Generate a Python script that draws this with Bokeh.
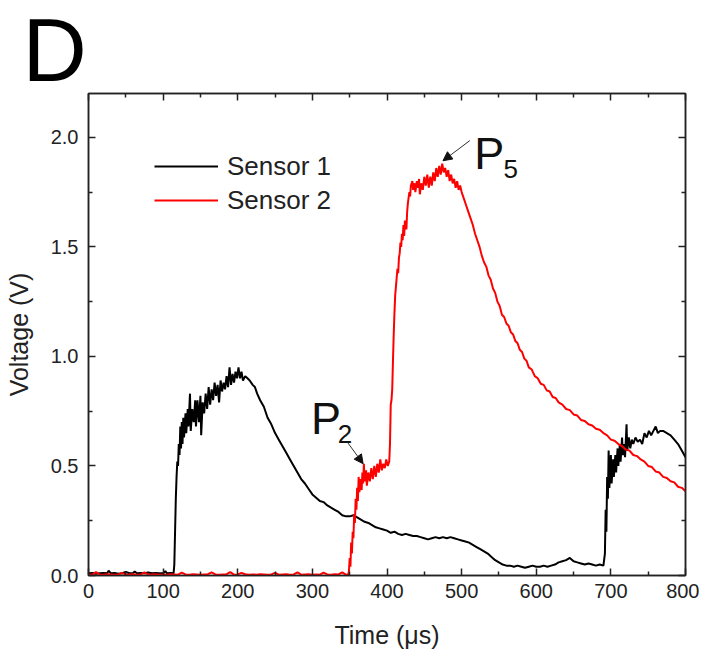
from bokeh.plotting import figure
from bokeh.models import (Range1d, FixedTicker, LinearAxis, Legend, LegendItem,
                          Label, Arrow, NormalHead, PrintfTickFormatter)
from bokeh.embed import file_html
from bokeh.resources import INLINE

# ---------------- data ----------------
s1_t = [0, 5, 10, 15, 20, 25, 27, 30, 35, 40, 45, 50, 55, 60, 62, 65, 70, 75, 80, 85, 90, 95, 100, 103, 105, 110, 114,
        115, 116, 117, 118, 119, 120, 121, 122, 123, 124, 125, 126, 127, 128, 130, 131, 133, 134, 136, 137, 139, 141,
        143, 144, 146, 148, 150, 151, 153, 155, 157, 159, 161, 163, 165, 167, 169, 171, 173, 175, 177, 179, 181, 183,
        185, 187, 189, 191, 193, 195, 197, 199, 201, 203, 205, 207, 210, 213, 216, 220, 223, 226, 230, 235, 240, 245,
        250, 255, 260, 265, 270, 275, 280, 285, 290, 295, 300, 305, 310, 315, 320, 325, 330, 335, 340, 345, 350, 355,
        360, 365, 370, 375, 380, 385, 390, 395, 400, 405, 410, 415, 420, 425, 430, 435, 440, 445, 450, 455, 460, 465,
        470, 475, 480, 485, 490, 495, 500, 505, 510, 515, 520, 525, 530, 535, 540, 545, 550, 555, 560, 565, 570, 575,
        580, 585, 590, 595, 600, 605, 610, 615, 620, 625, 630, 635, 640, 645, 650, 655, 660, 665, 670, 675, 680, 685,
        690, 692, 693, 694, 695, 696, 697, 698, 700, 701, 703, 704, 706, 707, 709, 710, 712, 713, 715, 716, 718, 719,
        721, 722, 724, 726, 728, 730, 733, 736, 739, 742, 745, 748, 751, 754, 757, 760, 763, 766, 770, 775, 780, 785,
        790, 795, 800]
s1_v = [0.01, 0.012, 0.008, 0.01, 0.012, 0.01, 0.022, 0.01, 0.012, 0.008, 0.01, 0.016, 0.01, 0.012, 0.018, 0.01, 0.012,
        0.01, 0.014, 0.01, 0.012, 0.01, 0.01, 0.02, 0.01, 0.012, 0.01,
        0.05, 0.2, 0.35, 0.45, 0.52, 0.5, 0.6, 0.55, 0.68, 0.58, 0.7, 0.6, 0.72, 0.63, 0.74, 0.65, 0.76, 0.68, 0.83,
        0.66, 0.76, 0.7, 0.8, 0.68, 0.8, 0.7, 0.82, 0.64, 0.79, 0.74, 0.83, 0.76, 0.86, 0.78, 0.85, 0.8, 0.88, 0.82,
        0.87, 0.79, 0.89, 0.84, 0.88, 0.85, 0.91, 0.86, 0.95, 0.87, 0.92, 0.88, 0.93, 0.9, 0.95, 0.9, 0.93, 0.89,
        0.91, 0.9, 0.89, 0.87, 0.86, 0.83, 0.8, 0.77, 0.72, 0.69,
        0.65, 0.62, 0.59, 0.56, 0.53, 0.5, 0.47, 0.44, 0.42, 0.395, 0.37, 0.355, 0.34, 0.335, 0.32, 0.31, 0.3, 0.29,
        0.275, 0.27, 0.27, 0.275,
        0.265, 0.255, 0.245, 0.24, 0.23, 0.22, 0.215, 0.21, 0.205, 0.195, 0.2, 0.19, 0.185, 0.19, 0.185, 0.18, 0.18,
        0.175, 0.17, 0.165, 0.17, 0.175,
        0.17, 0.175, 0.17, 0.175, 0.17, 0.165, 0.16, 0.155, 0.15, 0.14, 0.13, 0.12, 0.11, 0.1, 0.085, 0.07, 0.06,
        0.05, 0.045, 0.045, 0.04, 0.045,
        0.04, 0.035, 0.04, 0.045, 0.04, 0.04, 0.045, 0.04, 0.045, 0.05, 0.06, 0.065, 0.07, 0.08, 0.065, 0.06, 0.055,
        0.05, 0.055, 0.05, 0.045, 0.05,
        0.045, 0.1, 0.3, 0.2, 0.45, 0.35, 0.57, 0.4, 0.55, 0.42, 0.53, 0.45, 0.55, 0.47, 0.58, 0.5, 0.6, 0.52, 0.63,
        0.55, 0.6, 0.54,
        0.69, 0.57, 0.63, 0.58, 0.62, 0.6, 0.63, 0.61, 0.62, 0.6, 0.65, 0.63, 0.66, 0.64, 0.66, 0.68, 0.65, 0.66,
        0.66, 0.65, 0.64, 0.62,
        0.6, 0.57, 0.54]

s2_t = [0, 5, 10, 15, 20, 25, 30, 35, 40, 45, 50, 55, 60, 65, 70, 75, 80, 85, 90, 95, 100, 105, 110, 115, 120, 125,
        130, 135, 140, 145, 150, 155, 160, 165, 170, 175, 180, 185, 190, 195, 200, 205, 210, 215, 220, 225, 230, 235,
        240, 245, 250, 255, 260, 265, 270, 275, 280, 285, 290, 295, 300, 305, 310, 315, 320, 325, 330, 335, 340, 345,
        348, 349, 350, 351, 352, 353, 354, 355, 356, 357, 358, 359, 360, 361, 362, 363, 364, 366, 367, 368, 369, 370,
        372, 373, 375, 377, 379, 381, 383, 385, 387, 389, 391, 393, 395, 397, 399, 401, 403, 404, 405, 406, 407, 408,
        409, 410, 411, 412, 413, 414, 415, 416, 417, 418, 419, 420, 421, 422, 423, 424, 426, 427, 428, 430, 431, 432,
        434, 435, 437, 438, 440, 441, 443, 444, 446, 448, 450, 452, 454, 456, 458, 460, 462, 464, 466, 468, 470, 472,
        474, 476, 478, 480, 482, 484, 486, 488, 490, 492, 494, 496, 498, 500, 503, 506, 509, 512, 515, 518, 521, 524,
        527, 530, 533, 536, 539, 542, 545, 548, 551, 554, 557, 560, 563, 566, 569, 572, 575, 578, 581, 584, 587, 590,
        594, 598, 602, 606, 610, 614, 618, 622, 626, 630, 635, 640, 645, 650, 655, 660, 665, 670, 675, 680, 685, 690,
        695, 700, 705, 710, 715, 720, 725, 730, 735, 740, 745, 750, 755, 760, 765, 770, 775, 780, 785, 790, 795, 800]
s2_v = [0.005, 0.004, 0.015, 0.005, 0.004, 0.006, 0.005, 0.004, 0.005, 0.012, 0.004, 0.005, 0.006, 0.004, 0.005,
        0.014, 0.004, 0.005, 0.006, 0.004, 0.005, 0.004, 0.006, 0.005, 0.004, 0.013, 0.005, 0.004, 0.006, 0.005,
        0.004, 0.005, 0.006, 0.014, 0.005, 0.004, 0.005, 0.006, 0.015, 0.004, 0.005, 0.012, 0.006, 0.004, 0.005,
        0.004, 0.006, 0.005, 0.004, 0.005, 0.012, 0.004, 0.005, 0.006, 0.004, 0.005, 0.014, 0.004, 0.005, 0.006,
        0.004, 0.005, 0.004, 0.013, 0.005, 0.004, 0.006, 0.005, 0.014, 0.004,
        0.005, 0.02, 0.08, 0.04, 0.15, 0.1, 0.2, 0.17, 0.28, 0.24, 0.35, 0.3, 0.4, 0.34, 0.45, 0.38, 0.44, 0.39, 0.47,
        0.42, 0.51, 0.43,
        0.48, 0.41, 0.47, 0.43, 0.49, 0.44, 0.5, 0.45, 0.51, 0.47, 0.53, 0.48, 0.51, 0.49, 0.53, 0.5, 0.52, 0.6, 0.78,
        0.8, 0.85, 0.98,
        1.1, 1.2, 1.28, 1.32, 1.36, 1.4, 1.38, 1.45, 1.47, 1.52, 1.5, 1.56, 1.53, 1.6, 1.55, 1.62, 1.58, 1.66, 1.7,
        1.75, 1.73, 1.78,
        1.8, 1.76, 1.79, 1.75, 1.8, 1.77, 1.81, 1.74, 1.79, 1.76, 1.82, 1.78, 1.83, 1.77, 1.82, 1.78, 1.84, 1.8, 1.86,
        1.82, 1.87, 1.83,
        1.88, 1.84, 1.86, 1.82, 1.85, 1.8, 1.83, 1.79, 1.81, 1.77, 1.8, 1.76, 1.78, 1.75, 1.72, 1.69, 1.66, 1.63,
        1.6, 1.56, 1.53, 1.5,
        1.46, 1.43, 1.41, 1.37, 1.35, 1.31, 1.29, 1.25, 1.23, 1.19, 1.18, 1.15, 1.14, 1.11, 1.1, 1.07, 1.06, 1.03,
        1.02, 0.99, 0.98, 0.95,
        0.94, 0.91, 0.9, 0.875, 0.87, 0.845, 0.84, 0.815, 0.81, 0.79, 0.78, 0.76, 0.755, 0.735, 0.73, 0.71, 0.705,
        0.69, 0.685, 0.67, 0.665, 0.65,
        0.64, 0.62, 0.615, 0.6, 0.59, 0.575, 0.57, 0.55, 0.545, 0.53, 0.52, 0.5, 0.495, 0.475, 0.47, 0.45, 0.445,
        0.43, 0.425, 0.405, 0.4, 0.385]

series_names = ["Sensor 1", "Sensor 2"]
series_colors = ["black", "#ff0000"]

x_ticks = [0, 100, 200, 300, 400, 500, 600, 700, 800]
x_minor = [50, 150, 250, 350, 450, 550, 650, 750]
y_ticks = [0.0, 0.5, 1.0, 1.5, 2.0]
y_minor = [0.25, 0.75, 1.25, 1.75]

# annotations: (label, subscript, text x, text y, sub x, sub y, arrow tail x, tail y, head x, head y)
annots = [
    ("P", "5", 517, 1.925, 556, 1.857, 511, 1.985, 475, 1.893),
    ("P", "2", 298, 0.716, 334, 0.648, 347, 0.608, 368, 0.51),
]
panel_letter = "D"

FONT = "Liberation Sans"

p = figure(frame_width=597, frame_height=482, min_border_left=88, min_border_top=93,
           min_border_right=14, min_border_bottom=70,
           x_range=Range1d(0, 800), y_range=Range1d(0, 2.2),
           output_backend="svg", toolbar_location=None, x_axis_location=None, y_axis_location=None)
p.background_fill_color = "white"
p.border_fill_color = "white"
p.xgrid.visible = False
p.ygrid.visible = False
p.outline_line_color = "#222222"
p.outline_line_width = 1.5

# panel letter as the figure title
p.title.text = panel_letter
p.title.text_font = FONT
p.title.text_font_size = "89px"
p.title.text_font_style = "normal"
p.title.text_color = "black"
p.title.align = "left"
p.title.offset = -66
p.title.standoff = -12


def style_axis(ax, labels=True):
    ax.axis_line_color = "#222222"
    ax.axis_line_width = 1.5
    ax.major_tick_line_color = "#222222"
    ax.minor_tick_line_color = "#222222"
    ax.major_tick_line_width = 1.5
    ax.minor_tick_line_width = 1.5
    ax.major_tick_in = 7
    ax.major_tick_out = 0
    ax.minor_tick_in = 4
    ax.minor_tick_out = 0
    ax.major_label_text_font = FONT
    ax.major_label_text_font_size = "20px"
    ax.major_label_text_color = "#222222"
    ax.axis_label_text_font = FONT
    ax.axis_label_text_font_size = "25px"
    ax.axis_label_text_font_style = "normal"
    ax.axis_label_text_color = "#222222"
    if not labels:
        ax.major_label_text_alpha = 0
        ax.major_label_text_font_size = "1px"
        ax.major_label_standoff = 0


xb = LinearAxis(ticker=FixedTicker(ticks=x_ticks, minor_ticks=x_minor), axis_label="Time (\u03bcs)")
style_axis(xb)
xb.major_label_standoff = 8
xb.axis_label_standoff = 20
p.add_layout(xb, "below")

yl = LinearAxis(ticker=FixedTicker(ticks=y_ticks, minor_ticks=y_minor), axis_label="Voltage (V)",
                formatter=PrintfTickFormatter(format="%.1f"))
style_axis(yl)
yl.major_label_standoff = 10
yl.axis_label_standoff = 15
p.add_layout(yl, "left")

xt = LinearAxis(ticker=FixedTicker(ticks=x_ticks, minor_ticks=x_minor))
style_axis(xt, labels=False)
p.add_layout(xt, "above")

yr = LinearAxis(ticker=FixedTicker(ticks=y_ticks, minor_ticks=y_minor))
style_axis(yr, labels=False)
p.add_layout(yr, "right")

r1 = p.line(s1_t, s1_v, line_color=series_colors[0], line_width=2)
r2 = p.line(s2_t, s2_v, line_color=series_colors[1], line_width=2)

legend = Legend(items=[LegendItem(label=series_names[0], renderers=[r1]),
                       LegendItem(label=series_names[1], renderers=[r2])],
                location=(66, 358), orientation="vertical")
legend.label_text_font = FONT
legend.label_text_font_size = "26px"
legend.label_text_color = "#222222"
legend.glyph_width = 64
legend.glyph_height = 34
legend.label_height = 34
legend.label_standoff = 9
legend.spacing = 0
legend.padding = 0
legend.margin = 0
legend.border_line_alpha = 0
legend.background_fill_alpha = 0
p.add_layout(legend, "center")

for (lab, sub, tx, ty, sx, sy, ax0, ay0, ax1, ay1) in annots:
    p.add_layout(Label(x=tx, y=ty, text=lab, text_font=FONT, text_font_size="45px",
                       text_color="#111111", text_baseline="alphabetic"))
    p.add_layout(Label(x=sx, y=sy, text=sub, text_font=FONT, text_font_size="26px",
                       text_color="#111111", text_baseline="alphabetic"))
    p.add_layout(Arrow(x_start=ax0, y_start=ay0, x_end=ax1, y_end=ay1, line_color="#333333", line_width=1,
                       end=NormalHead(size=9, fill_color="#111111", line_color="#111111", line_width=1)))

open("out.html", "w").write(file_html(p, INLINE))
